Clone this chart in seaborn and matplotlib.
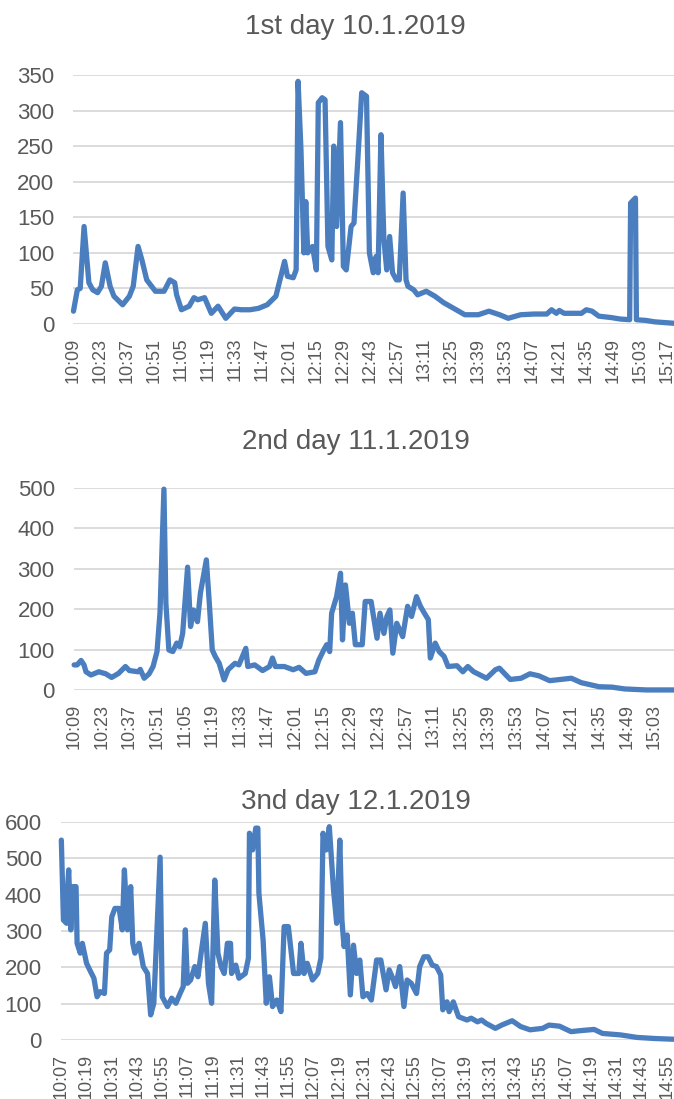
import numpy as np
import matplotlib
matplotlib.use("Agg")
import matplotlib.pyplot as plt
import seaborn as sns

# minutes after first reading, and reading value
day1_title = "1st day 10.1.2019"
day1_t = [0, 2, 3.5, 5.5, 8, 10, 12.5, 14.5, 16.5, 19, 21, 25.5, 29, 31, 33.5, 35.5, 38, 42.5,
          47, 50, 52.5, 53.5, 56, 60, 62.5, 64.5, 68, 71.5, 75, 79, 83.5, 87, 91.5, 96, 100.5,
          105, 109.5, 111, 114, 115.5, 116.5, 118, 119.5, 120.5, 121.5, 124, 126, 127, 129,
          130.5, 132, 134, 135, 136.5, 138.5, 140, 141.5, 144, 145.5, 147.5, 149.5, 152, 153.5,
          155.5, 157, 158, 159.5, 161, 162.5, 164, 165.5, 167.5, 169, 171, 172.5, 173.5, 176.5,
          178.5, 183, 187.5, 192, 198.5, 203, 210, 215.5, 221, 225.5, 232, 239, 245.5, 248,
          250.5, 252, 254.5, 263.5, 266, 269, 272.5, 279, 283.5, 288.5, 289, 291.5, 292, 297,
          301.5, 311.5]
day1_v = [18, 48, 50, 137, 58, 48, 44, 53, 86, 53, 39, 27, 39, 53, 109, 90, 62, 46,
          46, 62, 58, 41, 20, 25, 37, 34, 37, 15, 25, 8, 21, 20, 20, 22, 27,
          39, 88, 67, 65, 76, 341, 245, 100, 172, 100, 109, 76, 311, 318,
          315, 109, 90, 250, 137, 283, 81, 76, 137, 142, 231, 325, 320, 100,
          72, 95, 72, 266, 119, 76, 123, 72, 62, 62, 184, 62, 53, 48,
          41, 46, 39, 30, 20, 13, 13, 18, 13, 8, 13, 14, 14, 20,
          15, 19, 15, 15, 20, 18, 11, 9, 7, 6, 170, 177, 6, 5,
          3, 1]
day1_ticks = ["10:09", "10:23", "10:37", "10:51", "11:05", "11:19", "11:33", "11:47",
              "12:01", "12:15", "12:29", "12:43", "12:57", "13:11", "13:25", "13:39",
              "13:53", "14:07", "14:21", "14:35", "14:49", "15:03", "15:17"]

day2_title = "2nd day 11.1.2019"
day2_t = [0, 1.5, 3.5, 5, 6, 8.5, 12.5, 16, 19, 22.5, 26, 28, 32.5, 33.5, 35.5, 38, 40, 42,
          43.5, 45.5, 46.5, 48, 50, 52, 53.5, 55, 57.5, 59, 60.5, 62.5, 64, 67, 68.5, 70,
          71.5, 73.5, 76, 78, 81.5, 83.5, 87, 88, 91.5, 95.5, 99, 100.5, 102, 106.5, 111,
          114, 117.5, 122, 124, 126.5, 128, 129.5, 130.5, 133, 135, 136, 137.5, 139.5, 141,
          142.5, 146, 147.5, 150.5, 153.5, 155, 157, 158.5, 160, 161.5, 163.5, 166.5, 169,
          171, 173.5, 175.5, 177.5, 179.5, 180.5, 183, 185, 187.5, 189.5, 194, 197, 199.5,
          202.5, 209, 213.5, 215.5, 221, 226.5, 231, 235.5, 241, 246.5, 252, 257, 266,
          272.5, 279, 290, 304]
day2_v = [62, 62, 73, 62, 45, 37, 45, 40, 31, 41, 58, 48, 45, 51, 29, 40, 58, 95,
          190, 497, 215, 99, 95, 116, 107, 140, 304, 157, 198, 169, 240, 322, 215, 99,
          83, 66, 25, 50, 66, 62, 103, 58, 62, 48, 58, 79, 58, 58, 50,
          56, 41, 45, 74, 99, 112, 95, 190, 231, 289, 124, 260, 165, 190,
          112, 112, 219, 219, 128, 190, 140, 182, 198, 91, 165, 132, 207,
          182, 231, 207, 190, 174, 79, 116, 95, 83, 58, 60, 45, 58,
          45, 29, 50, 54, 26, 29, 40, 35, 23, 26, 29, 18, 8,
          7, 2.5, 0, 0]
day2_ticks = ["10:09", "10:23", "10:37", "10:51", "11:05", "11:19", "11:33", "11:47",
              "12:01", "12:15", "12:29", "12:43", "12:57", "13:11", "13:25", "13:39",
              "13:53", "14:07", "14:21", "14:35", "14:49", "15:03"]

day3_title = "3nd day 12.1.2019"
day3_t = [0, 1, 2.5, 3, 3.5, 4.5, 5.5, 7, 7.5, 9, 10, 12, 13.5, 15.5, 17, 18.5, 20.5, 21.5,
          23, 24, 25.5, 27.5, 29, 30, 31.5, 33, 34, 35, 37, 39, 41, 42.5, 44, 47, 48, 50.5,
          52.5, 54.5, 56.5, 58, 59, 60, 61.5, 63.5, 65, 66.5, 68.5, 70, 71.5, 73, 74.5, 76,
          77.5, 79, 80.5, 81, 83, 84.5, 87.5, 89, 89.5, 91, 92.5, 93.5, 94, 96, 97.5, 99,
          100.5, 102.5, 104.5, 106, 108, 110.5, 113, 114, 115.5, 117, 119.5, 122, 123.5,
          124.5, 126, 127.5, 129.5, 131, 132.5, 133.5, 134.5, 136, 137.5, 139, 140.5, 142,
          143.5, 145.5, 147.5, 150, 152, 154.5, 156, 158, 159, 161, 163, 164.5, 166.5, 169,
          170.5, 172.5, 174.5, 176.5, 178.5, 180.5, 181.5, 183.5, 184.5, 186.5, 189, 193,
          195, 198, 200, 202, 206.5, 209.5, 214.5, 218.5, 223, 229, 232, 237, 242.5, 247.5,
          253.5, 257.5, 266, 274, 282.5, 291.5]
day3_v = [550, 330, 321, 422, 468, 303, 422, 422, 266, 239, 266, 211, 193, 170, 119, 133, 128, 239,
          248, 339, 362, 362, 303, 468, 303, 422, 266, 239, 266, 202, 183, 69, 101, 503, 119, 92,
          115, 101, 128, 147, 303, 156, 165, 202, 174, 239, 321, 156, 101, 440, 239, 202,
          183, 266, 266, 183, 206, 170, 183, 225, 569, 523, 583, 583, 404, 275, 101, 174,
          92, 110, 78, 312, 312, 183, 183, 266, 183, 211, 165, 183, 225,
          569, 523, 587, 413, 321, 550, 330, 257, 289, 124, 261, 183, 220,
          119, 128, 110, 220, 220, 138, 193, 165, 147, 202, 92, 165, 156, 128,
          202, 229, 229, 206, 202, 179, 83, 105, 78, 105, 64, 55,
          60, 50, 55, 46, 32, 41, 53, 37, 28, 32, 41, 38, 23, 26,
          29, 18, 14, 7, 4, 2]
day3_ticks = ["10:07", "10:19", "10:31", "10:43", "10:55", "11:07", "11:19", "11:31",
              "11:43", "11:55", "12:07", "12:19", "12:31", "12:43", "12:55", "13:07",
              "13:19", "13:31", "13:43", "13:55", "14:07", "14:19", "14:31", "14:43", "14:55"]

sns.set_style("white")
plt.rcParams['font.family'] = ['Liberation Sans Narrow', 'Liberation Sans', 'DejaVu Sans']

line_color = "#4A7EBF"
text_color = "#595959"
grid_color = "#D9D9D9"

fig = plt.figure(figsize=(6.74, 10.99), dpi=100)

panels = [
    # title, t, v, ticks, tick step, ymax, ystep, [left, bottom, width, height], title y
    (day1_title, day1_t, day1_v, day1_ticks, 14, 350, 50, [0.109, 0.7052, 0.891, 0.2266], 0.975),
    (day2_title, day2_t, day2_v, day2_ticks, 14, 500, 100, [0.110, 0.3722, 0.890, 0.1838], 0.598),
    (day3_title, day3_t, day3_v, day3_ticks, 12, 600, 100, [0.091, 0.0537, 0.909, 0.1984], 0.270),
]

for title, t, v, ticks, step, ymax, ystep, rect, ty in panels:
    ax = fig.add_axes(rect)
    sns.lineplot(x=t, y=v, ax=ax, color=line_color, linewidth=3.8,
                 estimator=None, sort=False)
    ax.lines[0].set_solid_joinstyle("round")
    ax.lines[0].set_clip_on(False)
    ax.set_xlim(0, t[-1])
    ax.set_ylim(0, ymax)
    ax.set_yticks(np.arange(0, ymax + 1, ystep))
    ax.set_xticks(np.arange(len(ticks)) * step)
    ax.set_xticklabels(ticks, rotation=90)
    ax.yaxis.grid(True, color=grid_color, linewidth=1.3)
    ax.set_axisbelow(True)
    for s in ax.spines.values():
        s.set_visible(False)
    ax.tick_params(axis="y", length=0, pad=14, labelsize=16, labelcolor=text_color)
    ax.tick_params(axis="x", length=0, pad=10, labelsize=13, labelcolor=text_color)
    ax.set_xlabel("")
    ax.set_ylabel("")
    fig.text(0.528, ty, title, ha="center", va="center", fontsize=20, color=text_color)

fig.savefig("out.png", dpi=100)
